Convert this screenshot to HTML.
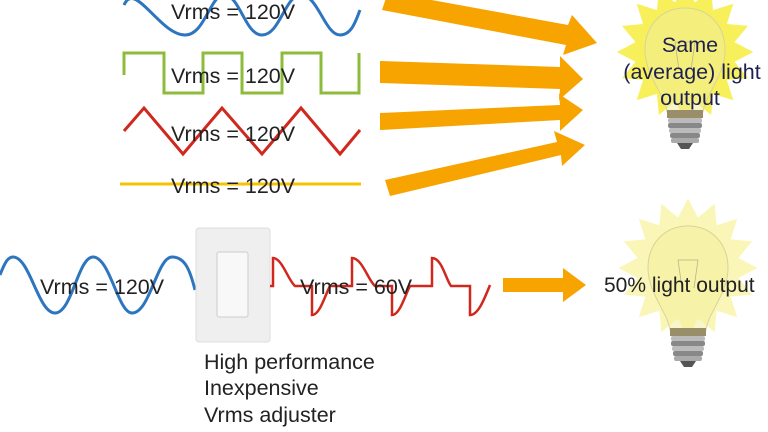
<!DOCTYPE html>
<html><head><meta charset="utf-8"><style>
html,body{margin:0;padding:0;background:#fff;}
svg{display:block;}
text{font-family:"Liberation Sans",Arial,sans-serif;}
</style></head><body>
<svg width="768" height="432" viewBox="0 0 768 432" xmlns="http://www.w3.org/2000/svg">
<defs>
<polygon id="star" points="65,0 47.1,9.4 60,24.9 39.9,26.7 46,46 26.7,39.9 24.9,60 9.4,47.1 0,65 -9.4,47.1 -24.9,60 -26.7,39.9 -46,46 -39.9,26.7 -60,24.9 -47.1,9.4 -65,0 -47.1,-9.4 -60,-24.9 -39.9,-26.7 -46,-46 -26.7,-39.9 -24.9,-60 -9.4,-47.1 0,-65 9.4,-47.1 24.9,-60 26.7,-39.9 46,-46 39.9,-26.7 60,-24.9 47.1,-9.4"/>
<g id="bulb">
<path d="M-18,62 C-20,45 -40,25 -40,0 C-40,-26 -22,-42 0,-42 C22,-42 40,-26 40,0 C40,25 20,45 18,62 Z" fill="#f2ee9a" fill-opacity="0.55" stroke="#d8d49a" stroke-width="1"/>
<path d="M-6,20 L-10,-8 M6,20 L10,-8 M-10,-8 L10,-8" stroke="#b8b48a" stroke-width="0.8" fill="none"/>
<rect x="-18" y="60" width="36" height="8" fill="#9a8d6a"/>
<rect x="-17" y="68" width="34" height="5" rx="2" fill="#bbb"/>
<rect x="-17" y="73" width="34" height="5" rx="2" fill="#888"/>
<rect x="-16" y="78" width="32" height="5" rx="2" fill="#bbb"/>
<rect x="-15" y="83" width="30" height="5" rx="2" fill="#888"/>
<rect x="-14" y="88" width="28" height="5" rx="2" fill="#aaa"/>
<path d="M-8,93 L8,93 L4,99 L-4,99 Z" fill="#555"/>
</g>
</defs>

<path d="M124,5 C135,-20 160,35 185,35 C205,35 210,-5 224,-5 C240,-5 245,35 262,35 C280,35 285,-5 301,-5 C318,-5 325,35 340,35 C352,35 356,20 360,10" fill="none" stroke="#2e75c0" stroke-width="3"/>
<path d="M124,75 L124,53 L164,53 L164,93 L203,93 L203,53 L242,53 L242,93 L282,93 L282,53 L321,53 L321,93 L359,93 L359,53" fill="none" stroke="#8dbb3c" stroke-width="3"/>
<path d="M124,131 L144,108 L183,154 L222,108 L262,154 L301,108 L340,154 L360,130" fill="none" stroke="#d0281e" stroke-width="3"/>
<line x1="120" y1="184" x2="361" y2="184" stroke="#f5c400" stroke-width="3"/>
<g font-size="21.5" fill="#222">
<text x="171" y="19">Vrms = 120V</text>
<text x="171" y="83">Vrms = 120V</text>
<text x="171" y="141">Vrms = 120V</text>
<text x="171" y="193">Vrms = 120V</text>
</g>

<g fill="#f7a300">
<polygon points="388,-8 568,25 572,15 597,43 563,55 566,45 382,10"/>
<polygon points="380,61 560,67 560,56 583,79 559,100 560,89 380,83"/>
<polygon points="380,113 560,105 559,94 583,110 560,131 560,120 380,130"/>
<polygon points="385,180 557,142 554,131 585,145 562,166 561,155 390,196"/>
</g>

<use href="#star" transform="translate(685,52) scale(1.05)" fill="#f7f05a"/>
<use href="#bulb" transform="translate(685,50)"/>
<g font-size="21.5" fill="#1e2050" text-anchor="middle">
<text x="690" y="52">Same</text>
<text x="692" y="79">(average) light</text>
<text x="690" y="105">output</text>
</g>

<path d="M0,275 C5,262 8,257 13,257 C30,257 38,313 55,313 C72,313 78,257 93,257 C110,257 118,313 132,313 C150,313 157,257 172,257 C185,257 190,270 195,290" fill="none" stroke="#2e75c0" stroke-width="3"/>
<text x="40" y="294" font-size="21.5" fill="#222">Vrms = 120V</text>

<rect x="196" y="228" width="74" height="114" rx="3" fill="#efefef" stroke="#dcdcdc"/>
<rect x="217" y="252" width="31" height="65" rx="2" fill="#f8f8f8" stroke="#ccc"/>

<path d="M270,286 L273,286 L273,258 C282,258 288,280 295,286 L312,286 L312,315 C320,315 325,295 330,286 L352,286 L352,258 C362,258 368,280 375,286 L392,286 L392,315 C400,315 405,295 410,286 L432,286 L432,258 C442,258 446,280 451,286 L470,286 L470,315 C478,315 484,300 490,285" fill="none" stroke="#d0281e" stroke-width="2.5"/>
<text x="300" y="294" font-size="21.5" fill="#222">Vrms = 60V</text>

<polygon points="503,278 563,278 563,268 586,285 563,302 563,292 503,292" fill="#f7a300"/>

<use href="#star" transform="translate(688,268) scale(1.07)" fill="#faf6b8"/>
<use href="#bulb" transform="translate(688,268)"/>
<text x="604" y="292" font-size="21" fill="#222">50% light output</text>

<g font-size="21.5" fill="#222">
<text x="204" y="369">High performance</text>
<text x="204" y="395">Inexpensive</text>
<text x="204" y="422">Vrms adjuster</text>
</g>
</svg>
</body></html>
